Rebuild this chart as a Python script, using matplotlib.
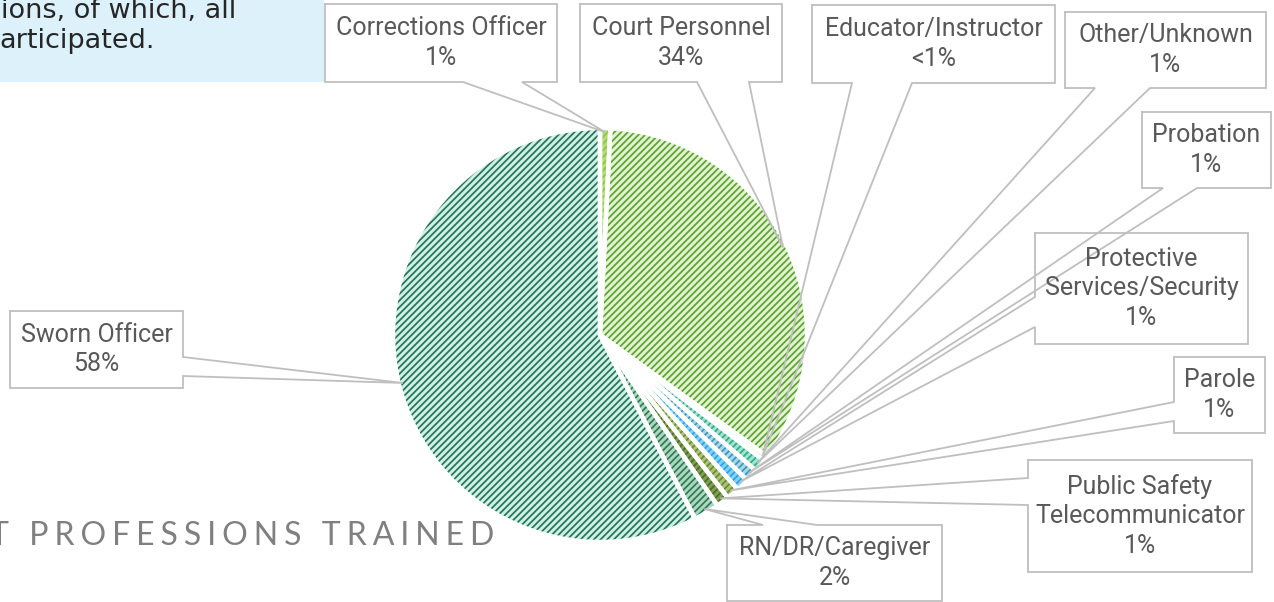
import numpy as np
import matplotlib
matplotlib.use("Agg")
import matplotlib.pyplot as plt
from matplotlib.patches import Rectangle

W, H = 1274, 602

# data
professions = ['Corrections Officer', 'Court Personnel', 'Educator/Instructor',
               'Other/Unknown', 'Probation', 'Protective\nServices/Security',
               'Parole', 'Public Safety\nTelecommunicator', 'RN/DR/Caregiver',
               'Sworn Officer']
shares = [0.8, 34.2, 0.4, 1.0, 1.0, 1.0, 1.0, 1.0, 2.0, 57.6]
share_labels = ['1%', '34%', '<1%', '1%', '1%', '1%', '1%', '1%', '2%', '58%']

face_colors = ['#b4dc7c', '#e1f3d0', '#cfe9b8', '#a3e2cf', '#a9d8e8',
               '#82d2f5', '#acc27e', '#7f9e55', '#acd8c0', '#d0efe5']
hatch_colors = ['#8cc63f', '#5ea332', '#8cc63f', '#2fae8a', '#3c98bb',
                '#2aa3e6', '#6b8c2c', '#4c6e22', '#2f7a55', '#23755a']

# callout boxes, pixel coords (x0, y0, x1, y1), side of tail, tail base
callouts = [
    ((325, 4, 557, 82), 'bottom', (463, 522)),
    ((580, 4, 782, 82), 'bottom', (697, 749)),
    ((812, 5, 1055, 83), 'bottom', (852, 912)),
    ((1065, 12, 1266, 88), 'bottom', (1095, 1150)),
    ((1142, 112, 1271, 188), 'bottom', (1163, 1197)),
    ((1035, 233, 1248, 344), 'left', (297, 327)),
    ((1174, 357, 1265, 433), 'left', (402, 421)),
    ((1028, 460, 1252, 572), 'left', (478, 505)),
    ((727, 525, 942, 601), 'top', (763, 817)),
    ((10, 311, 183, 388), 'right', (357, 376)),
]

pie_cx, pie_cy, pie_r = 600, 335, 207


def fy(y):
    return H - y


plt.rcParams['hatch.linewidth'] = 1.25

fig = plt.figure(figsize=(W / 100, H / 100), dpi=100)
ax = fig.add_axes([0, 0, 1, 1])

# background decoration
ax.add_patch(Rectangle((0, fy(82)), 324, 82, facecolor='#ddf1fb', edgecolor='none', zorder=0))
ax.text(1, fy(18), 'ions, of which, all', fontsize=19.5, family='DejaVu Sans',
        color='#262626', ha='left', va='baseline')
ax.text(-1, fy(48), 'articipated.', fontsize=19.5, family='DejaVu Sans',
        color='#262626', ha='left', va='baseline')
title = '\u2009\u200a'.join('T PROFESSIONS TRAINED')
ax.text(494, fy(545), title, fontsize=23, family=['Lato', 'DejaVu Sans'],
        color='#808080', ha='right', va='baseline')

wedges, _ = ax.pie(shares, radius=pie_r, center=(pie_cx, fy(pie_cy)), startangle=90,
                   counterclock=False, colors=face_colors,
                   wedgeprops=dict(linewidth=0))
for w, hc in zip(wedges, hatch_colors):
    w.set_hatch('/////')
    w.set_edgecolor(hc)
    w.set_linewidth(0)

# white separators
ax.pie(shares, radius=pie_r, center=(pie_cx, fy(pie_cy)), startangle=90,
       counterclock=False, colors=['none'] * len(shares),
       wedgeprops=dict(edgecolor='white', linewidth=3.2))

line_col = '#bfbfbf'
for w, name, lab, (box, side, base) in zip(wedges, professions, share_labels, callouts):
    mid = np.deg2rad((w.theta1 + w.theta2) / 2)
    tip = (pie_cx + 0.98 * pie_r * np.cos(mid), fy(pie_cy) + 0.98 * pie_r * np.sin(mid))
    x0, y0, x1, y1 = box
    a, b = base
    if side == 'bottom':
        pts = [(x0, y0), (x1, y0), (x1, y1), (b, y1), None, (a, y1), (x0, y1), (x0, y0)]
    elif side == 'top':
        pts = [(x0, y0), (a, y0), None, (b, y0), (x1, y0), (x1, y1), (x0, y1), (x0, y0)]
    elif side == 'left':
        pts = [(x0, y0), (x1, y0), (x1, y1), (x0, y1), (x0, b), None, (x0, a), (x0, y0)]
    else:
        pts = [(x0, y0), (x1, y0), (x1, a), None, (x1, b), (x1, y1), (x0, y1), (x0, y0)]
    xs, ys = [], []
    for p in pts:
        if p is None:
            xs.append(tip[0])
            ys.append(tip[1])
        else:
            xs.append(p[0])
            ys.append(fy(p[1]))
    ax.add_patch(Rectangle((x0, fy(y1)), x1 - x0, y1 - y0, facecolor='white',
                           edgecolor='none', zorder=3))
    ax.plot(xs, ys, color=line_col, lw=1.3, zorder=4, solid_joinstyle='miter')
    ax.text((x0 + x1) / 2, fy((y0 + y1) / 2), name + '\n' + lab, fontsize=18,
            family='Roboto', color='#595959', ha='center', va='center',
            linespacing=1.3, zorder=5)

ax.set_xlim(0, W)
ax.set_ylim(0, H)
ax.set_aspect('auto')
ax.axis('off')

fig.savefig('out.png', dpi=100, facecolor='white')
